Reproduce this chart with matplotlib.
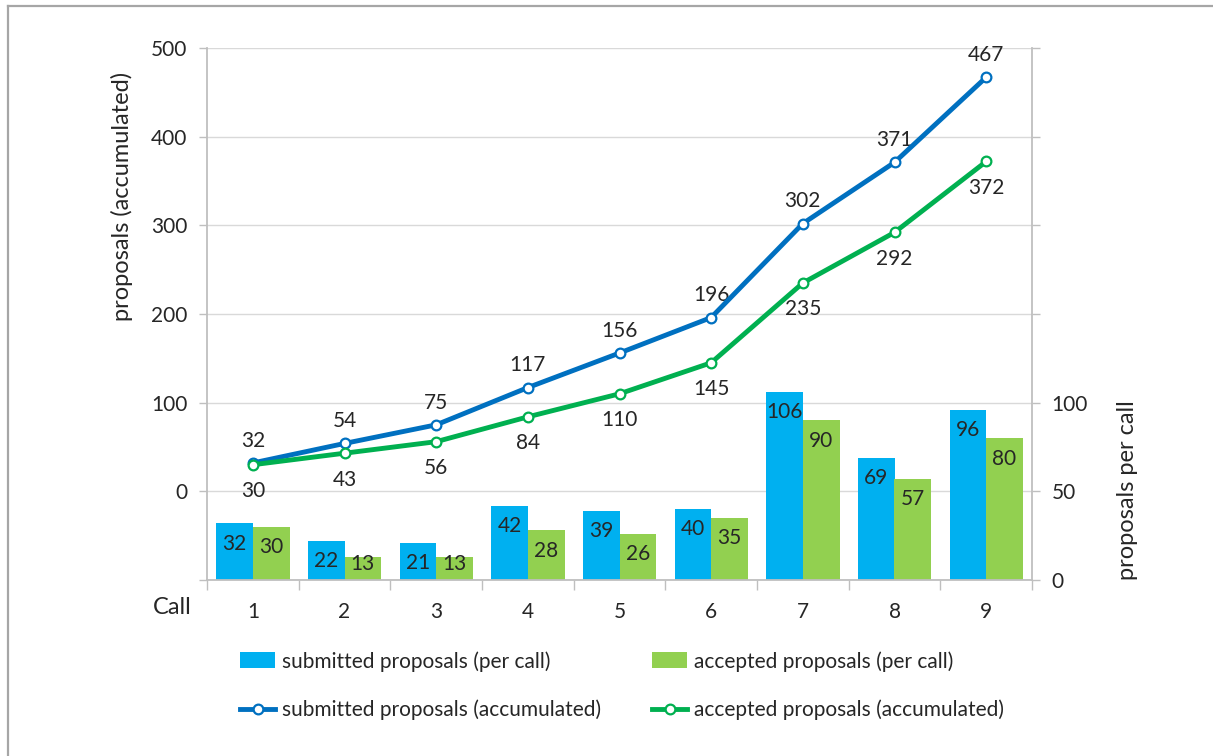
import matplotlib
matplotlib.use("Agg")
import matplotlib.pyplot as plt
from matplotlib.lines import Line2D
from matplotlib.patches import Patch

plt.rcParams['font.family'] = ['Lato', 'DejaVu Sans']

calls = ["1", "2", "3", "4", "5", "6", "7", "8", "9"]
submitted_per_call = [32, 22, 21, 42, 39, 40, 106, 69, 96]
accepted_per_call = [30, 13, 13, 28, 26, 35, 90, 57, 80]
submitted_accum = [32, 54, 75, 117, 156, 196, 302, 371, 467]
accepted_accum = [30, 43, 56, 84, 110, 145, 235, 292, 372]

C_SUB_BAR = '#00B0F0'
C_ACC_BAR = '#92D050'
C_SUB_LINE = '#0070C0'
C_ACC_LINE = '#00B050'
TXT = '#262626'
AX_GRAY = '#BFBFBF'
GRID = '#D9D9D9'
FS = 15
FS_TITLE = 17

W, H = 1213, 756
fig = plt.figure(figsize=(W / 100, H / 100), dpi=100)
left, right, top, bottom = 207 / W, 1032 / W, 1 - 48 / H, 1 - 580 / H
ax = fig.add_axes([left, bottom, right - left, top - bottom])
ax2 = ax.twinx()

x = list(range(1, len(calls) + 1))
bw = 0.4


def inside_end(v):
    # label sits just under the bar top, but never below the bar's base
    return max(v - 11.5, 9)


# bars on the per-call (right) axis
ax2.bar([i - bw / 2 for i in x], submitted_per_call, width=bw, color=C_SUB_BAR, zorder=2)
ax2.bar([i + bw / 2 for i in x], accepted_per_call, width=bw, color=C_ACC_BAR, zorder=2)
for i, v in zip(x, submitted_per_call):
    ax2.text(i - bw / 2, inside_end(v), str(v), ha='center', va='center',
             fontsize=FS, color=TXT, zorder=3)
for i, v in zip(x, accepted_per_call):
    ax2.text(i + bw / 2, inside_end(v), str(v), ha='center', va='center',
             fontsize=FS, color=TXT, zorder=3)

ax2.set_ylim(0, 300)
ax2.set_yticks(range(0, 301, 50))
ax2.set_yticklabels([str(t) if t <= 100 else '' for t in range(0, 301, 50)])
ax2.yaxis.grid(True, color=GRID, linewidth=1)
ax2.set_axisbelow(True)
ax2.tick_params(axis='y', length=6, color=AX_GRAY, labelsize=FS, labelcolor=TXT, pad=8, width=1)
for s in ['top', 'left', 'bottom']:
    ax2.spines[s].set_visible(False)
ax2.spines['right'].set_color(AX_GRAY)
ax2.spines['right'].set_linewidth(1.3)

# accumulated lines on the left axis, drawn above the bars
ax.set_zorder(ax2.get_zorder() + 1)
ax.patch.set_visible(False)
ax.plot(x, submitted_accum, color=C_SUB_LINE, lw=3.5, marker='o', ms=7,
        mfc='white', mec=C_SUB_LINE, mew=1.6, zorder=4)
ax.plot(x, accepted_accum, color=C_ACC_LINE, lw=3.5, marker='o', ms=7,
        mfc='white', mec=C_ACC_LINE, mew=1.6, zorder=4)
for i, v in zip(x, submitted_accum):
    ax.annotate(str(v), (i, v), xytext=(0, 16), textcoords='offset points',
                ha='center', va='center', fontsize=FS, color=TXT)
for i, v in zip(x, accepted_accum):
    ax.annotate(str(v), (i, v), xytext=(0, -19), textcoords='offset points',
                ha='center', va='center', fontsize=FS, color=TXT)

ax.set_ylim(-100, 500)
ax.set_yticks(range(-100, 501, 100))
ax.set_yticklabels(['' if t < 0 else str(t) for t in range(-100, 501, 100)])
ax.tick_params(axis='y', length=6, color=AX_GRAY, labelsize=FS, labelcolor=TXT, pad=8, width=1)

ax.set_xlim(0.5, len(calls) + 0.5)
ax.set_xticks(x)
ax.set_xticklabels(calls)
ax.set_xticks([i + 0.5 for i in range(0, len(calls) + 1)], minor=True)
ax.tick_params(axis='x', which='major', length=0, labelsize=FS, labelcolor=TXT, pad=16)
ax.tick_params(axis='x', which='minor', length=7, color=AX_GRAY, width=1)
for s in ['top', 'right']:
    ax.spines[s].set_visible(False)
for s in ['left', 'bottom']:
    ax.spines[s].set_color(AX_GRAY)
    ax.spines[s].set_linewidth(1.3)

fig.text(172 / W, 1 - 608 / H, 'Call', ha='center', va='center', fontsize=FS_TITLE, color=TXT)
fig.text(122 / W, 1 - 196 / H, 'proposals (accumulated)', rotation=90,
         ha='center', va='center', fontsize=FS_TITLE, color=TXT)
fig.text(1127 / W, 1 - 490 / H, 'proposals per call', rotation=90,
         ha='center', va='center', fontsize=FS_TITLE, color=TXT)

# legend, two columns below the plot
h_sub_bar = Patch(facecolor=C_SUB_BAR)
h_acc_bar = Patch(facecolor=C_ACC_BAR)
h_sub_line = Line2D([], [], color=C_SUB_LINE, lw=3.5, marker='o', ms=7, mfc='white', mec=C_SUB_LINE, mew=1.6)
h_acc_line = Line2D([], [], color=C_ACC_LINE, lw=3.5, marker='o', ms=7, mfc='white', mec=C_ACC_LINE, mew=1.6)
leg_kw = dict(frameon=False, fontsize=FS, handlelength=1.7, handleheight=0.8, handletextpad=0.3,
              labelspacing=1.35, borderpad=0, borderaxespad=0, loc='upper left')
leg1 = fig.legend([h_sub_bar, h_sub_line],
                  ['submitted proposals (per call)', 'submitted proposals (accumulated)'],
                  bbox_to_anchor=(240 / W, 1 - 651 / H), **leg_kw)
leg2 = fig.legend([h_acc_bar, h_acc_line],
                  ['accepted proposals (per call)', 'accepted proposals (accumulated)'],
                  bbox_to_anchor=(652 / W, 1 - 651 / H), **leg_kw)
for lg in (leg1, leg2):
    for t in lg.get_texts():
        t.set_color(TXT)

# outer frame edges
fig.add_artist(Line2D([7.5 / W, 7.5 / W], [0, 1 - 5.5 / H], color='#A6A6A6', lw=1.6, transform=fig.transFigure))
fig.add_artist(Line2D([7.5 / W, 1], [1 - 5.5 / H, 1 - 5.5 / H], color='#A6A6A6', lw=1.6, transform=fig.transFigure))

fig.savefig('out.png', dpi=100, facecolor='white')
